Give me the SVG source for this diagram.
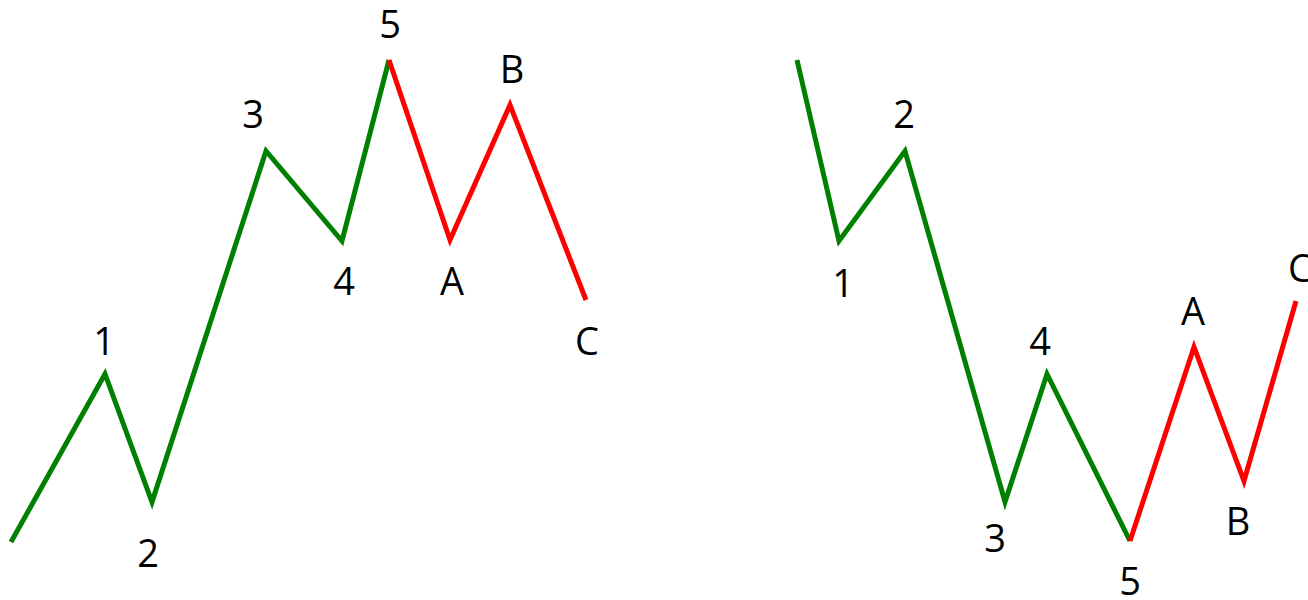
<svg xmlns="http://www.w3.org/2000/svg" width="1308" height="600" viewBox="0 0 1308 600">
<style>
.g{fill:none;stroke:#008000;stroke-width:5;stroke-linejoin:miter;stroke-linecap:butt}
.r{fill:none;stroke:#ff0000;stroke-width:5;stroke-linejoin:miter;stroke-linecap:butt}
text{font-family:"Open Sans","Liberation Sans",sans-serif;font-size:38px;fill:#000;text-anchor:middle}
</style>
<rect width="1308" height="600" fill="#fff"/>
<g id="connectors">
<polyline class="g" points="11,542 105,374 152,502 266,151 342,241 389,60"/>
<polyline class="r" points="389,60 450,240 510,105 586,300"/>
<polyline class="g" points="797,60 839,241 905,151 1005,502 1047,374 1130,541"/>
<polyline class="r" points="1130,541 1194,347 1244,481 1296,301"/>
</g>
<g id="labels-left">
<text x="104" y="355">1</text>
<text x="148" y="567">2</text>
<text x="253" y="128">3</text>
<text x="344" y="295">4</text>
<text x="390" y="38">5</text>
<text x="452" y="295">A</text>
<text x="512" y="83">B</text>
<text x="587" y="355">C</text>
</g>
<g id="labels-right">
<text x="843" y="297">1</text>
<text x="904" y="128">2</text>
<text x="995" y="552">3</text>
<text x="1040" y="355">4</text>
<text x="1130" y="595">5</text>
<text x="1193" y="325">A</text>
<text x="1238" y="535">B</text>
<text x="1300" y="282">C</text>
</g>
</svg>
